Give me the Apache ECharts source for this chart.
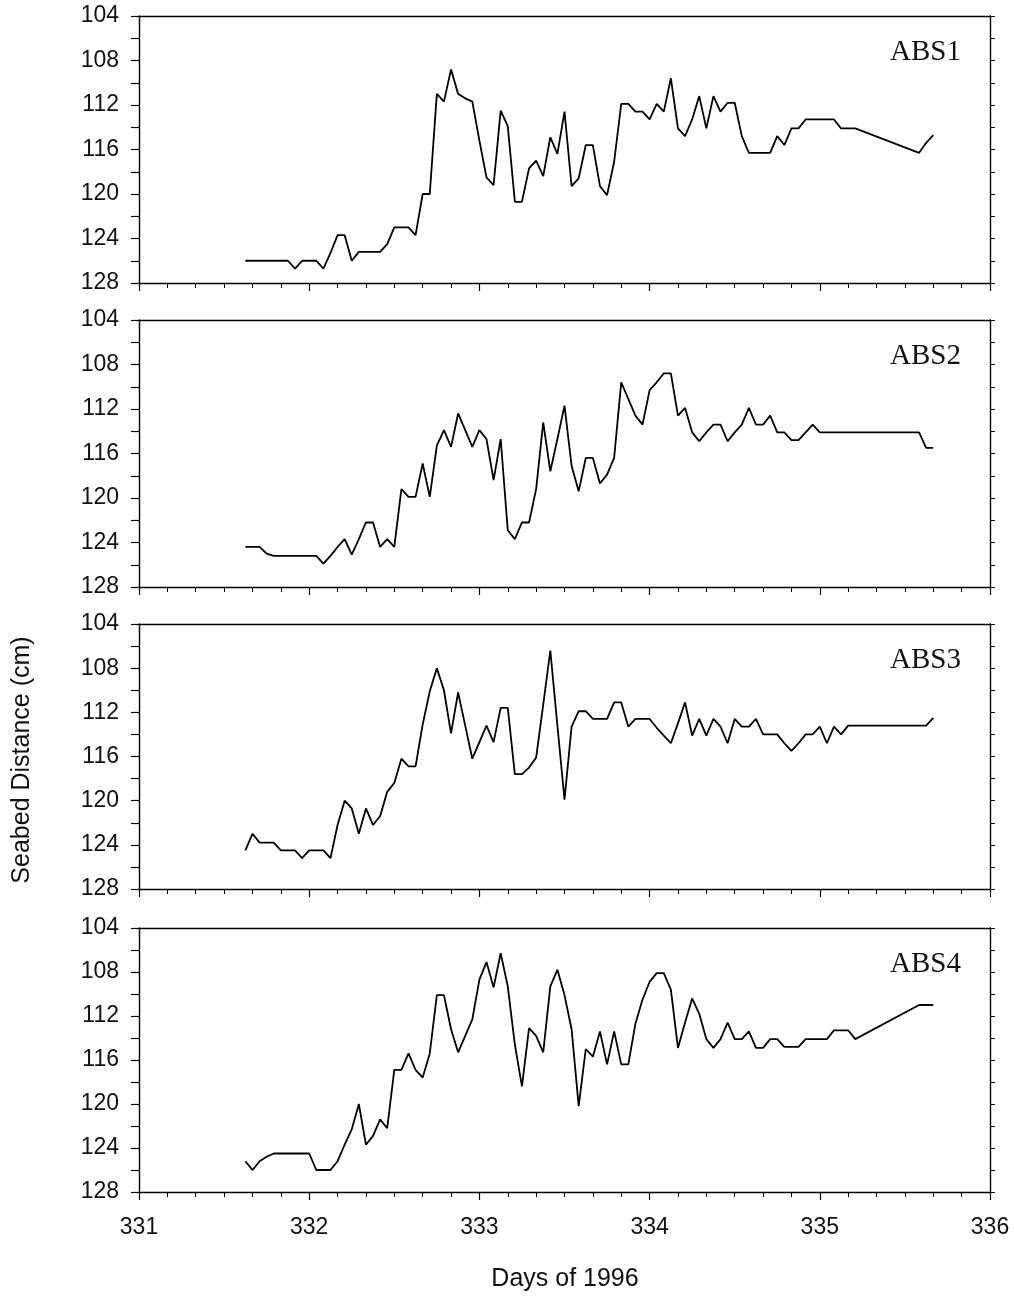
<!DOCTYPE html>
<html>
<head>
<meta charset="utf-8">
<title>Seabed distance ABS1-ABS4</title>
<script src="https://cdn.jsdelivr.net/npm/echarts@6/dist/echarts.min.js"></script>
<style>
html, body { margin: 0; padding: 0; background: #fff; }
#main { width: 1014px; height: 1296px; }
</style>
</head>
<body>
<div id="main"></div>
<script>
// hours after day 331 00:00 (hourly samples)
var hours = [15, 16, 17, 18, 19, 20, 21, 22, 23, 24, 25, 26, 27, 28, 29, 30, 31, 32, 33, 34,
    35, 36, 37, 38, 39, 40, 41, 42, 43, 44, 45, 46, 47, 48, 49, 50, 51, 52, 53, 54,
    55, 56, 57, 58, 59, 60, 61, 62, 63, 64, 65, 66, 67, 68, 69, 70, 71, 72, 73, 74,
    75, 76, 77, 78, 79, 80, 81, 82, 83, 84, 85, 86, 87, 88, 89, 90, 91, 92, 93, 94,
    95, 96, 97, 98, 99, 100, 101, 102, 103, 104, 105, 106, 107, 108, 109, 110, 111, 112];

var sensorNames = ['ABS1', 'ABS2', 'ABS3', 'ABS4'];

// seabed distance (cm), null = no sample
var abs1 = [126, 126, 126, 126, 126, 126, 126, 126.7, 126, 126, 126, 126.7, 125.3, 123.7, 123.7, 126, 125.2, 125.2, 125.2, 125.2,
    124.5, 123, 123, 123, 123.7, 120, 120, 111.0, 111.7, 108.8, 111.0, 111.4, 111.7, 115.2, 118.5, 119.2, 112.5, 113.9, 120.7, 120.7,
    117.7, 117.0, 118.4, 114.9, 116.4, 112.6, 119.3, 118.6, 115.6, 115.6, 119.3, 120.1, 117.1, 111.9, 111.9, 112.6, 112.6, 113.3, 111.9, 112.6,
    109.6, 114.1, 114.8, 113.3, 111.2, 114.1, 111.2, 112.6, 111.8, 111.8, 114.8, 116.3, 116.3, 116.3, 116.3, 114.8, 115.6, 114.1, 114.1, 113.3,
    113.3, 113.3, 113.3, 113.3, 114.1, 114.1, 114.1, null, null, null, null, null, null, null, null, 116.3, 115.4, 114.7];

var abs2 = [124.4, 124.4, 124.4, 125.0, 125.2, 125.2, 125.2, 125.2, 125.2, 125.2, 125.2, 125.9, 125.2, 124.4, 123.7, 125.1, 123.7, 122.2, 122.2, 124.4,
    123.7, 124.4, 119.2, 119.9, 119.9, 116.9, 119.9, 115.3, 113.9, 115.4, 112.4, 113.9, 115.4, 113.9, 114.7, 118.4, 114.7, 122.9, 123.7, 122.2,
    122.2, 119.2, 113.2, 117.6, 114.7, 111.7, 117.1, 119.4, 116.4, 116.4, 118.7, 117.9, 116.4, 109.6, 111.1, 112.6, 113.4, 110.3, 109.6, 108.8,
    108.8, 112.6, 111.9, 114.1, 114.9, 114.1, 113.4, 113.4, 114.9, 114.1, 113.4, 111.9, 113.4, 113.4, 112.6, 114.1, 114.1, 114.8, 114.8, 114.1,
    113.4, 114.1, null, null, null, null, null, null, null, null, null, null, null, null, null, 114.1, 115.5, 115.5];

var abs3 = [124.5, 123.0, 123.8, 123.8, 123.8, 124.5, 124.5, 124.5, 125.2, 124.5, 124.5, 124.5, 125.2, 122.2, 120.0, 120.7, 123.0, 120.7, 122.2, 121.4,
    119.2, 118.4, 116.2, 116.9, 116.9, 113.1, 110.1, 108.0, 110.0, 113.9, 110.2, 113.2, 116.2, 114.7, 113.2, 114.7, 111.6, 111.6, 117.6, 117.6,
    117.0, 116.1, 111.3, 106.4, 113.2, 119.9, 113.3, 111.9, 111.9, 112.6, 112.6, 112.6, 111.1, 111.1, 113.3, 112.6, 112.6, 112.6, 113.4, 114.1,
    114.8, 113.0, 111.1, 114.1, 112.6, 114.1, 112.6, 113.3, 114.8, 112.6, 113.3, 113.3, 112.6, 114.0, 114.0, 114.0, 114.8, 115.5, 114.8, 114.0,
    114.0, 113.3, 114.8, 113.3, 114.0, 113.2, null, null, null, null, null, null, null, null, null, null, 113.2, 112.5];

var abs4 = [125.2, 126.0, 125.2, 124.8, 124.5, 124.5, 124.5, 124.5, 124.5, 124.5, 126.0, 126.0, 126.0, 125.2, 123.7, 122.3, 120.0, 123.7, 122.9, 121.4,
    122.2, 116.9, 116.9, 115.4, 116.9, 117.6, 115.4, 110.1, 110.1, 113.2, 115.3, 113.8, 112.3, 108.7, 107.1, 109.4, 106.3, 109.3, 114.6, 118.4,
    113.1, 113.8, 115.3, 109.3, 107.8, 110.1, 113.2, 120.2, 115.0, 115.7, 113.4, 116.4, 113.4, 116.4, 116.4, 112.7, 110.5, 108.9, 108.1, 108.1,
    109.6, 114.9, 112.6, 110.4, 111.8, 114.1, 114.9, 114.1, 112.6, 114.1, 114.1, 113.4, 114.9, 114.9, 114.1, 114.1, 114.8, 114.8, 114.8, 114.1,
    114.1, 114.1, 114.1, 113.3, 113.3, 113.3, 114.1, null, null, null, null, null, null, null, null, 111.0, 111.0, 111.0];

var allSeriesData = [abs1, abs2, abs3, abs4];

var gridTops = [16, 320, 624, 928];
var gridHeights = [267, 267, 265, 264];

function toPairs(vals) {
    return vals.map(function (v, i) {
        return [331 + hours[i] / 24, v];
    });
}

var black = '#000';
var grids = [], xAxes = [], yAxes = [], series = [], graphics = [];

for (var i = 0; i < 4; i++) {
    grids.push({ left: 139, width: 851, top: gridTops[i], height: gridHeights[i] });

    // bottom axis with ticks
    xAxes.push({
        type: 'value', gridIndex: i, position: 'bottom',
        min: 331, max: 336, interval: 1,
        axisLine: { show: true, onZero: false, lineStyle: { color: black, width: 1.4 } },
        axisTick: { show: true, length: 8, lineStyle: { color: black, width: 1.2 } },
        minorTick: { show: true, splitNumber: 6, length: 5, lineStyle: { color: black, width: 1 } },
        axisLabel: {
            show: i === 3, margin: 24, fontSize: 23, color: '#111',
            fontFamily: 'Liberation Sans', showMinLabel: true, showMaxLabel: true
        },
        splitLine: { show: false }
    });
    // top border
    xAxes.push({
        type: 'value', gridIndex: i, position: 'top',
        min: 331, max: 336, interval: 1,
        axisLine: { show: true, onZero: false, lineStyle: { color: black, width: 1.4 } },
        axisTick: { show: false }, axisLabel: { show: false }, splitLine: { show: false }
    });
    // left axis
    yAxes.push({
        type: 'value', gridIndex: i, position: 'left', inverse: true,
        min: 104, max: 128, interval: 4,
        axisLine: { show: true, onZero: false, lineStyle: { color: black, width: 1.4 } },
        axisTick: { show: true, length: 8, lineStyle: { color: black, width: 1.2 } },
        minorTick: { show: true, splitNumber: 2, length: 8, lineStyle: { color: black, width: 1.2 } },
        axisLabel: {
            margin: 20, fontSize: 23, color: '#111', fontFamily: 'Liberation Sans',
            showMinLabel: true, showMaxLabel: true
        },
        splitLine: { show: false }
    });
    // right border with small ticks
    yAxes.push({
        type: 'value', gridIndex: i, position: 'right', inverse: true,
        min: 104, max: 128, interval: 2,
        axisLine: { show: true, onZero: false, lineStyle: { color: black, width: 1.4 } },
        axisTick: { show: true, length: 5, lineStyle: { color: black, width: 1 } },
        axisLabel: { show: false }, splitLine: { show: false }
    });

    series.push({
        name: sensorNames[i],
        type: 'line',
        xAxisIndex: i * 2,
        yAxisIndex: i * 2,
        data: toPairs(allSeriesData[i]),
        connectNulls: true,
        showSymbol: false,
        symbol: 'none',
        lineStyle: { color: black, width: 1.8 },
        animation: false
    });

    graphics.push({
        type: 'text',
        x: 961, y: gridTops[i] + 36,
        style: {
            text: sensorNames[i],
            font: '29px "Liberation Serif"',
            fill: '#111',
            textAlign: 'right',
            textVerticalAlign: 'middle'
        }
    });
}

graphics.push({
    type: 'text',
    x: 22, y: 760,
    rotation: Math.PI / 2,
    style: {
        text: 'Seabed Distance (cm)',
        font: '25px "Liberation Sans"',
        fill: '#111',
        textAlign: 'center',
        textVerticalAlign: 'middle'
    }
});
graphics.push({
    type: 'text',
    x: 565, y: 1279,
    style: {
        text: 'Days of 1996',
        font: '25px "Liberation Sans"',
        fill: '#111',
        textAlign: 'center',
        textVerticalAlign: 'middle'
    }
});

var chart = echarts.init(document.getElementById('main'));
chart.setOption({
    backgroundColor: '#fff',
    animation: false,
    grid: grids,
    xAxis: xAxes,
    yAxis: yAxes,
    series: series,
    graphic: graphics
});
</script>
</body>
</html>
